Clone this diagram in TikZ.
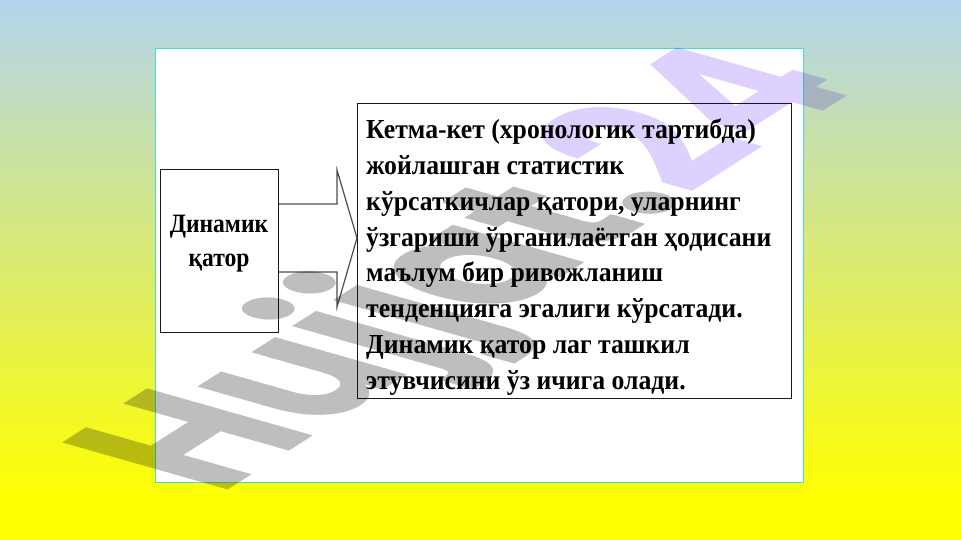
\documentclass[tikz,border=0pt]{standalone}
\usepackage{fontspec}
\setmainfont{Liberation Serif}
\newfontfamily\bodyfont[FakeStretch=0.935]{Liberation Serif}
\newfontfamily\labelfont[FakeStretch=0.89]{Liberation Serif}
\newfontfamily\markfont{Poppins}
\usetikzlibrary{calc}
\definecolor{skytop}{RGB}{178,212,236}
\definecolor{midgreen}{RGB}{222,232,105}
\definecolor{pureyellow}{RGB}{255,255,0}
\definecolor{panelline}{RGB}{64,224,208}
\definecolor{markgray}{RGB}{190,190,190}
\definecolor{marklav}{RGB}{222,208,255}
\definecolor{inkline}{RGB}{25,25,25}
\tikzset{
 framebox/.style={draw=inkline,line width=1pt,inner sep=0pt,anchor=north west},
 blockarrow/.style={draw=black!70,line width=1.2pt,line join=miter},
 bodytext/.style={font=\bodyfont\bfseries\fontsize{27.5}{35.9}\selectfont,align=left,anchor=north west,inner sep=0pt,text=black},
 labeltext/.style={font=\labelfont\bfseries\fontsize{26.5}{34}\selectfont,align=center,inner sep=0pt,text=black},
}
\begin{document}
\begin{tikzpicture}[x=1pt,y=-1pt]
\useasboundingbox (0,0) rectangle (961,540);
\fill[pureyellow] (0,0) rectangle (961,540);
\shade[top color=skytop,middle color=midgreen,bottom color=pureyellow,shading angle=0] (0,0) rectangle (961,500);
\node[draw=panelline,fill=white,line width=.8pt,minimum width=648pt,minimum height=434pt,inner sep=0pt,anchor=north west] (panel) at (155,48) {};
\node[framebox,minimum width=118pt,minimum height=163pt] (left) at (160,169) {};
\node[framebox,minimum width=434pt,minimum height=295pt] (right) at (357,103) {};
\node[labeltext] (lefttext) at (219,244) {Динамик\\қатор};
\node[bodytext] (bodytext) at (366,118.5) {Кетма-кет (хронологик тартибда)\\жойлашган статистик\\кўрсаткичлар қатори, уларнинг\\ўзгариши ўрганилаётган ҳодисани\\маълум бир ривожланиш\\тенденцияга эгалиги кўрсатади.\\Динамик қатор лаг ташкил\\этувчисини ўз ичига олади.};
\coordinate (t1) at (left.east |- 0,204);
\coordinate (t2) at (337,204);
\coordinate (t3) at (337,170);
\coordinate (tip) at (right.west |- 0,238);
\coordinate (t4) at (337,307);
\coordinate (t5) at (337,272);
\coordinate (t6) at (left.east |- 0,272);
\draw[blockarrow] (t1) -- (t2) -- (t3) -- (tip) -- (t4) -- (t5) -- (t6);
\begin{scope}[blend mode=multiply]
\begin{scope}[cm={1.40,0.89,-2.36,0.67,(219,495)}]
\node[anchor=base west,inner sep=0pt,outer sep=0pt,transform shape,font=\markfont\bfseries\fontsize{100}{100}\selectfont] (mark) at (0,0) {\textcolor{markgray}{Hujjat.}\textcolor{marklav}{24}};
\end{scope}
\end{scope}
\end{tikzpicture}
\end{document}
